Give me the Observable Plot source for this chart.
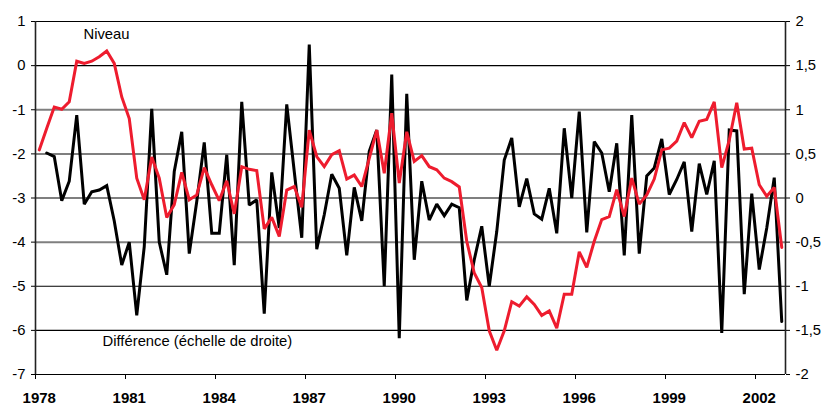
<!DOCTYPE html>
<html>
<head>
<meta charset="utf-8">
<script src="https://cdn.jsdelivr.net/npm/d3@7"></script>
<script src="https://cdn.jsdelivr.net/npm/@observablehq/plot@0.6"></script>
<style>
  html, body { margin: 0; padding: 0; background: #fff; }
  #chart { width: 822px; height: 405px; }
</style>
</head>
<body>
<div id="chart"></div>
<script>
// Quarterly data, 1978Q1 .. 2002Q4
const startYear = 1978;
// "Niveau" (left scale)
const niveau = [
  -1.91, -1.42, -0.94, -0.99, -0.82, 0.10, 0.05, 0.10, 0.20, 0.33,
  0.05, -0.71, -1.20, -2.55, -3.04, -2.07, -2.55, -3.44, -3.15, -2.42,
  -3.04, -2.93, -2.31, -2.70, -3.06, -2.61, -3.36, -2.29, -2.35, -2.38,
  -3.70, -3.44, -3.87, -2.82, -2.74, -3.21, -1.46, -2.06, -2.29, -2.02,
  -1.93, -2.57, -2.48, -2.74, -2.10, -1.46, -2.44, -1.08, -2.66, -1.50,
  -2.17, -2.04, -2.29, -2.36, -2.55, -2.63, -2.75, -3.98, -4.70, -5.03,
  -6.01, -6.45, -6.01, -5.35, -5.45, -5.24, -5.41, -5.66, -5.56, -5.95,
  -5.18, -5.18, -4.22, -4.57, -3.98, -3.49, -3.42, -2.81, -3.42, -2.55,
  -3.14, -2.93, -2.57, -1.91, -1.87, -1.71, -1.29, -1.63, -1.26, -1.22,
  -0.82, -2.31, -1.69, -0.84, -1.89, -1.87, -2.70, -2.96, -2.76, -4.12
];
// "Différence" (right scale), starts 1978Q2
const difference = [
  null, 0.51, 0.47, -0.03, 0.19, 0.94, -0.07, 0.07, 0.09, 0.14,
  -0.26, -0.76, -0.50, -1.33, -0.55, 1.01, -0.50, -0.87, 0.30, 0.75,
  -0.63, -0.04, 0.63, -0.40, -0.40, 0.49, -0.76, 1.09, -0.08, -0.02,
  -1.31, 0.29, -0.34, 1.06, 0.30, -0.45, 1.74, -0.58, -0.19, 0.27,
  0.11, -0.65, 0.12, -0.26, 0.53, 0.77, -1.00, 1.40, -1.59, 1.18,
  -0.70, 0.19, -0.25, -0.07, -0.20, -0.07, -0.11, -1.16, -0.70, -0.32,
  -1.00, -0.38, 0.43, 0.68, -0.10, 0.22, -0.18, -0.24, 0.11, -0.40,
  0.79, 0.00, 0.98, -0.39, 0.64, 0.51, 0.07, 0.62, -0.65, 0.94,
  -0.63, 0.25, 0.34, 0.67, 0.04, 0.21, 0.41, -0.38, 0.39, 0.04,
  0.42, -1.53, 0.77, 0.76, -1.09, 0.05, -0.81, -0.34, 0.23, -1.40
];
const yearLabels = [1978, 1981, 1984, 1987, 1990, 1993, 1996, 1999, 2002];
const leftTicks = [1, 0, -1, -2, -3, -4, -5, -6, -7];
const rightTicks = [2, 1.5, 1, 0.5, 0, -0.5, -1, -1.5, -2];
const gridGray = [-1, -2, -3, -4];
const gridBlack = [1, 0, -5, -6, -7];
const labelTexts = ["Niveau", "Différence (échelle de droite)"];
const labelYears = [1979.60, 1980.235];
const labelValues = [0.70, -6.24];

// right scale -> left scale
const toLeft = r => 2 * r - 3;

const rows = niveau.map((v, i) => ({t: startYear + (i + 0.5) / 4, niveau: v, diff: difference[i]}));
const diffRows = rows.filter(d => d.diff != null);
const labels = labelTexts.map((s, i) => ({text: s, t: labelYears[i], v: labelValues[i]}));

const chart = Plot.plot({
  width: 822,
  height: 405,
  marginLeft: 35,
  marginRight: 37,
  marginTop: 21,
  marginBottom: 31,
  x: {domain: [startYear, 2003]},
  y: {domain: [-7, 1]},
  style: {fontFamily: "'Liberation Sans', Arial, sans-serif", fontSize: "14.8px", background: "#fff", color: "#000"},
  marks: [
    Plot.ruleY(gridGray, {stroke: "#7f7f7f", strokeWidth: 2}),
    Plot.ruleY(gridBlack, {stroke: "#000", strokeWidth: 1.2}),
    Plot.ruleX([startYear, 2003], {stroke: "#222", strokeWidth: 1.6}),
    Plot.line(diffRows, {x: "t", y: d => toLeft(d.diff), stroke: "#000", strokeWidth: 3, strokeLinejoin: "miter", strokeMiterlimit: 2}),
    Plot.line(rows, {x: "t", y: "niveau", stroke: "#ee1c2e", strokeWidth: 3, strokeLinejoin: "miter", strokeMiterlimit: 2}),
    Plot.axisY(leftTicks, {anchor: "left", tickSize: 4, tickPadding: 6, tickFormat: d => String(d), label: null}),
    Plot.axisY(rightTicks.map(toLeft), {anchor: "right", tickSize: 4, tickPadding: 6,
      tickFormat: l => String((l + 3) / 2).replace(".", ","), label: null}),
    Plot.axisX(yearLabels, {anchor: "bottom", tickSize: 5, tickFormat: () => "", label: null}),
    Plot.axisX(yearLabels.map(y => y + 0.125), {anchor: "bottom", tickSize: 0, tickPadding: 18,
      tickFormat: d => String(Math.floor(d)), fontWeight: "bold", fontSize: 15, label: null}),
    Plot.text(labels, {x: "t", y: "v", text: "text", textAnchor: "start", lineAnchor: "middle", fill: "#000"})
  ]
});
document.getElementById("chart").appendChild(chart);
</script>
</body>
</html>
